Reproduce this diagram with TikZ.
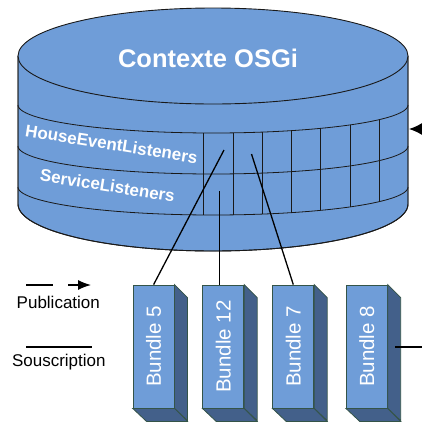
\documentclass[tikz,border=0pt]{standalone}
\usepackage{fontspec}
\setmainfont{Liberation Sans}
\newfontfamily\arialfam{Liberation Sans}
\usetikzlibrary{arrows.meta,calc}
\definecolor{cylblue}{RGB}{111,157,216}
\definecolor{sideblue}{RGB}{67,96,138}
\definecolor{bundleedge}{RGB}{52,84,72}
\definecolor{lineblack}{RGB}{25,25,25}
\tikzset{
  cylline/.style={draw=lineblack, line width=0.9pt},
  gridline/.style={draw=lineblack, line width=0.8pt},
  conn/.style={draw=black, line width=1.3pt},
  bundlebox/.style={draw=bundleedge, line width=0.8pt, fill=cylblue, minimum width=41pt, minimum height=123pt, inner sep=0pt, text=white, font=\arialfam\fontsize{20.5}{24}\selectfont},
  bundleside/.style={draw=bundleedge, line width=0.8pt, fill=sideblue},
  listtext/.style={text=white, font=\arialfam\bfseries\fontsize{17}{20}\selectfont, inner sep=0pt, rotate=-9},
  legendtext/.style={text=black, font=\arialfam\fontsize{17}{20}\selectfont, inner sep=0pt}
}
\begin{document}
\begin{tikzpicture}[x=1pt,y=-1pt]
\useasboundingbox (0,0) rectangle (422,421);
% cylinder body
\path[cylline, fill=cylblue] (18,56) -- plot[domain=180:360,samples=90] ({213+195*cos(\x)},{204-47*sin(\x)}) -- (408,56) -- cycle;
\draw[cylline] (18,56) -- (18,204) plot[domain=180:360,samples=90] ({213+195*cos(\x)},{204-47*sin(\x)}) -- (408,56);
% band arcs
\foreach \yc in {105,146,187}{
  \draw[gridline] plot[domain=180:360,samples=90] ({213+195*cos(\x)},{\yc-28*sin(\x)});
}
% vertical grid lines
\foreach \gx in {203.3,233.3,262.7,291.7,320.7,350,379.3}{
  \draw[gridline] ({\gx},{105+28*sqrt(1-((\gx-213)/195)^2)}) -- ({\gx},{187+28*sqrt(1-((\gx-213)/195)^2)});
}
% top ellipse
\draw[cylline, fill=cylblue] (213,56) ellipse [x radius=195pt, y radius=48pt];
\node[text=white, font=\arialfam\bfseries\fontsize{25.5}{30}\selectfont, inner sep=0pt] (ctx) at (208,58) {Contexte OSGi};
\node[listtext] (hel) at (111.5,144) {HouseEventListeners};
\node[listtext] (sl) at (107.5,185.5) {ServiceListeners};
% grid points
\coordinate (h5) at (224,150);
\coordinate (s12) at (219.3,191);
\coordinate (h7) at (251.5,154);
\coordinate (inR) at (409,129);
\coordinate (outR) at (450,129);
% bundles
\foreach \nm/\cx/\lab in {b5/153.6/Bundle 5, b12/223.3/Bundle 12, b7/293.3/Bundle 7, b8/366.8/Bundle 8}{
  \node[bundlebox] (\nm) at (\cx,346.5) {\rotatebox{90}{\lab}};
  \path[bundleside] (\nm.north east) -- ++(13,13) -- ++(0,123) -- (\nm.south east) -- cycle;
  \path[bundleside] (\nm.south west) -- (\nm.south east) -- ++(13,13) -- ++(-41,0) -- cycle;
}
% subscriptions
\draw[conn] (b5.north) -- (h5);
\draw[conn] (s12 |- b12.north) -- (s12);
\draw[conn] (b7.north) -- (h7);
\coordinate (b8out) at (395,347);
\coordinate (b8far) at (450,347);
\draw[conn] (b8out) -- (b8far);
% incoming publication arrow
\draw[conn, -{Latex[length=13pt,width=12pt]}] (outR) -- (inR);
% legend
\coordinate (p1) at (26,285);
\coordinate (p2) at (91,285);
\draw[conn, dash pattern=on 27pt off 15pt, -{Latex[length=13pt,width=10pt]}] (p1) -- (p2);
\node[legendtext] (pub) at (58.3,302.7) {Publication};
\coordinate (s1) at (26,347);
\coordinate (s2) at (92,347);
\draw[conn] (s1) -- (s2);
\node[legendtext] (sous) at (58.8,361.7) {Souscription};
\end{tikzpicture}
\end{document}
